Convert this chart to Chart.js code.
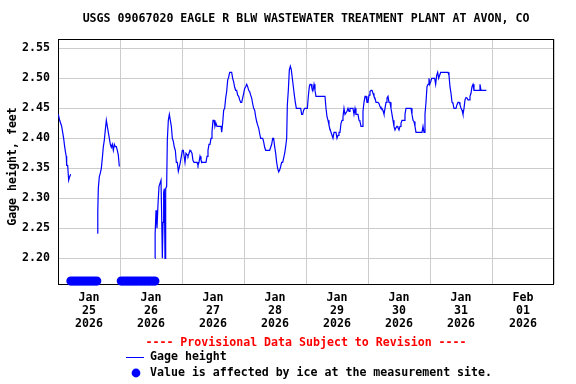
<!DOCTYPE html>
<html>
<head>
<meta charset="utf-8">
<script src="https://cdn.jsdelivr.net/npm/chart.js@4"></script>
<style>
  html, body { margin: 0; padding: 0; background: #fff; }
  #wrap { width: 576px; height: 384px; }
</style>
</head>
<body>
<div id="wrap"><canvas id="gageChart" width="576" height="384"></canvas></div>
<script>
// hours since Jan 25 2026 00:00, gage height in feet (null = gap in record)
const gageHours = [
  0.13, 0.65, 1.03, 1.42, 1.81, 2.19, 2.58, 2.97, 3.2, 3.36, 3.74, 4.13, 4.52, 4.9,
  10,
  15.2, 15.4, 15.61, 16.0, 16.39, 16.77, 17.16, 17.55, 17.93, 18.32, 18.71, 19.1, 19.48, 19.87,
  20.26, 20.64, 21.03, 21.42, 21.81, 22.19, 22.58, 22.97, 23.35, 23.74,
  30,
  37.55, 37.6, 37.94, 38.32, 38.71, 39.1, 39.48, 39.87, 40.13, 40.39, 40.65, 40.9, 41.16, 41.42,
  41.68, 42.06, 42.32, 42.71, 43.1, 43.48, 43.87, 44.26, 44.64, 45.03, 45.42, 45.81, 46.19, 46.58,
  46.97, 47.35, 47.74, 48.13, 48.52, 48.77, 49.16, 49.55, 49.94, 50.32, 50.71, 51.1, 51.48, 51.87,
  52.26, 52.65, 53.81, 54.19, 54.58, 54.97, 55.35, 55.74, 57.29, 57.68, 58.06, 58.45, 58.84, 59.23,
  59.61, 60.0, 60.39, 60.77, 61.16, 61.55, 63.1, 63.36, 63.74, 64.13, 64.52, 64.9, 65.29, 65.68,
  66.06, 66.45, 67.23, 67.61, 68.0, 68.39, 68.77, 69.16, 69.55, 69.94, 70.32, 70.71, 71.1, 71.48,
  71.87, 72.26, 72.65, 73.03, 73.42, 73.81, 74.19, 74.58, 74.97, 75.35, 75.74, 76.13, 76.52, 76.9,
  77.29, 77.68, 78.06, 78.45, 78.84, 79.23, 79.61, 80.0, 80.39, 81.94, 82.32, 82.71, 83.1, 83.48,
  83.87, 84.26, 84.65, 85.03, 85.42, 85.81, 86.19, 86.58, 86.97, 87.35, 87.74, 88.13, 88.52, 88.77,
  89.16, 89.55, 89.94, 90.32, 90.71, 91.1, 91.48, 91.87, 92.26, 93.94, 94.32, 94.71, 95.1, 95.48,
  96.52, 96.9, 97.29, 97.55, 97.94, 98.32, 98.71, 99.1, 99.48, 99.87, 103.35, 103.74, 104.13, 104.52,
  104.9, 105.29, 105.68, 106.06, 106.45, 106.84, 107.61, 108.0, 108.39, 108.77, 109.16, 109.55, 109.94, 110.32,
  110.71, 111.1, 111.48, 111.87, 112.26, 112.65, 113.03, 114.19, 114.58, 114.97, 115.35, 116.13, 116.52, 116.9,
  117.29, 117.68, 118.06, 118.45, 118.84, 119.23, 119.61, 120.0, 120.39, 120.77, 121.16, 121.55, 121.94, 122.32,
  122.71, 123.1, 123.87, 124.26, 124.65, 125.03, 125.42, 125.81, 126.19, 126.58, 126.97, 127.35, 127.74, 128.13,
  128.52, 128.9, 129.29, 129.68, 130.06, 130.45, 130.84, 131.23, 131.61, 132.0, 132.39, 132.77, 133.16, 133.94,
  134.32, 134.71, 136.65, 137.03, 137.42, 137.81, 138.19, 138.58, 140.9, 141.29, 141.68, 142.06, 142.45, 142.84,
  143.23, 143.61, 143.87, 144.26, 144.65, 145.81, 146.19, 146.58, 146.97, 147.35, 147.74, 148.13, 150.97, 151.35,
  151.74, 152.13, 152.52, 152.9, 153.29, 154.06, 154.45, 154.84, 155.23, 155.61, 156.0, 156.39, 156.77, 157.16,
  157.55, 157.94, 158.32, 158.71, 159.1, 159.48, 159.87, 160.26, 160.65, 161.03, 162.97, 163.35, 163.74, 165.81
];
const gageFeet = [
  2.44, 2.43, 2.425, 2.42, 2.41, 2.40, 2.386, 2.375, 2.37, 2.355, 2.355, 2.33, 2.336, 2.34,
  null,
  2.242, 2.278, 2.317, 2.336, 2.342, 2.35, 2.367, 2.386, 2.397, 2.414, 2.43, 2.42, 2.41, 2.40,
  2.39, 2.385, 2.39, 2.38, 2.39, 2.386, 2.386, 2.38, 2.372, 2.353,
  null,
  2.20, 2.24, 2.28, 2.25, 2.29, 2.32, 2.32, 2.33, 2.27, 2.20, 2.26, 2.31, 2.316, 2.20,
  2.316, 2.32, 2.397, 2.43, 2.44, 2.43, 2.42, 2.40, 2.395, 2.385, 2.38, 2.36, 2.36, 2.345,
  2.352, 2.36, 2.37, 2.38, 2.38, 2.38, 2.36, 2.375, 2.373, 2.37, 2.375, 2.38, 2.378, 2.375,
  2.363, 2.36, 2.36, 2.355, 2.36, 2.37, 2.364, 2.36, 2.36, 2.37, 2.38, 2.39, 2.39, 2.40,
  2.41, 2.43, 2.43, 2.42, 2.425, 2.42, 2.42, 2.41, 2.425, 2.447, 2.45, 2.467, 2.478, 2.497,
  2.502, 2.51, 2.51, 2.50, 2.494, 2.485, 2.48, 2.48, 2.472, 2.47, 2.464, 2.46, 2.46, 2.467,
  2.475, 2.483, 2.486, 2.49, 2.486, 2.48, 2.478, 2.472, 2.467, 2.458, 2.45, 2.447, 2.436, 2.428,
  2.422, 2.417, 2.408, 2.40, 2.40, 2.40, 2.394, 2.385, 2.38, 2.38, 2.385, 2.39, 2.40, 2.40,
  2.386, 2.375, 2.36, 2.35, 2.344, 2.347, 2.353, 2.36, 2.36, 2.367, 2.375, 2.386, 2.40, 2.455,
  2.48, 2.514, 2.52, 2.514, 2.50, 2.486, 2.472, 2.46, 2.45, 2.45, 2.44, 2.44, 2.447, 2.45,
  2.45, 2.47, 2.486, 2.49, 2.49, 2.483, 2.48, 2.49, 2.48, 2.47, 2.47, 2.45, 2.436, 2.43,
  2.422, 2.415, 2.41, 2.41, 2.40, 2.41, 2.41, 2.40, 2.405, 2.41, 2.41, 2.425, 2.43, 2.436,
  2.45, 2.44, 2.44, 2.445, 2.45, 2.445, 2.45, 2.45, 2.44, 2.45, 2.44, 2.44, 2.43, 2.428,
  2.42, 2.42, 2.445, 2.46, 2.47, 2.47, 2.46, 2.46, 2.472, 2.478, 2.48, 2.48, 2.475, 2.47,
  2.467, 2.46, 2.46, 2.458, 2.453, 2.45, 2.45, 2.446, 2.44, 2.45, 2.46, 2.467, 2.47, 2.46,
  2.46, 2.45, 2.44, 2.43, 2.42, 2.414, 2.418, 2.42, 2.418, 2.414, 2.42, 2.425, 2.43, 2.43,
  2.44, 2.45, 2.45, 2.44, 2.43, 2.428, 2.42, 2.41, 2.41, 2.42, 2.41, 2.44, 2.46, 2.486,
  2.49, 2.50, 2.49, 2.494, 2.50, 2.50, 2.49, 2.505, 2.51, 2.50, 2.505, 2.51, 2.51, 2.505,
  2.486, 2.475, 2.46, 2.458, 2.45, 2.45, 2.456, 2.46, 2.46, 2.456, 2.45, 2.447, 2.44, 2.45,
  2.464, 2.468, 2.467, 2.464, 2.464, 2.47, 2.475, 2.486, 2.49, 2.48, 2.48, 2.49, 2.48, 2.48
];

// ice-affected markers (hours) sit just above the bottom of the plot
const iceHours = [5, 6, 7, 8, 9, 10, 11, 12, 13, 14, 15,
  24.5, 25.5, 26.5, 27.5, 28.5, 29.5, 30.5, 31.5, 32.5, 33.5, 34.5, 35.5, 36.5, 37.5];
const iceLevel = 2.162;

const dayLabels = [
  ['Jan', '25', '2026'], ['Jan', '26', '2026'], ['Jan', '27', '2026'], ['Jan', '28', '2026'],
  ['Jan', '29', '2026'], ['Jan', '30', '2026'], ['Jan', '31', '2026'], ['Feb', '01', '2026']
];
const yTicks = [2.20, 2.25, 2.30, 2.35, 2.40, 2.45, 2.50, 2.55];

const titleText = 'USGS 09067020 EAGLE R BLW WASTEWATER TREATMENT PLANT AT AVON, CO';
const provisionalText = '---- Provisional Data Subject to Revision ----';
const yTitle = 'Gage height, feet';

const MONO = '"DejaVu Sans Mono", "Liberation Mono", monospace';
const FONT = { family: MONO, size: 11.6, weight: 'bold', lineHeight: 1.15 };

const usgsDecor = {
  id: 'usgsDecor',
  beforeDatasetsDraw(chart) {
    const { ctx, chartArea: a } = chart;
    ctx.save();
    ctx.strokeStyle = '#000';
    ctx.lineWidth = 1;
    ctx.strokeRect(Math.round(a.left) + 0.5, Math.round(a.top) + 0.5,
      Math.round(a.right - a.left) - 1, Math.round(a.bottom - a.top));
    ctx.restore();
  },
  afterDraw(chart) {
    const { ctx, chartArea: a } = chart;
    const cx = (a.left + a.right) / 2;
    ctx.save();
    ctx.font = 'bold 11.6px ' + MONO;
    ctx.textBaseline = 'middle';

    ctx.fillStyle = '#000';
    ctx.textAlign = 'center';
    ctx.fillText(titleText, cx, 19);

    // y axis title, a little below the plot centre as in the USGS plots
    ctx.save();
    ctx.translate(13, (a.top + a.bottom) / 2 + 5);
    ctx.rotate(-Math.PI / 2);
    ctx.fillText(yTitle, 0, 0);
    ctx.restore();

    ctx.fillStyle = '#ff0000';
    ctx.fillText(provisionalText, cx, 343);

    ctx.textAlign = 'left';
    ctx.fillStyle = '#000';
    ctx.fillText(chart.data.datasets[0].label, 150, 357);
    ctx.fillText(chart.data.datasets[1].label, 150, 373);

    ctx.strokeStyle = '#0000ff';
    ctx.lineWidth = 1;
    ctx.beginPath();
    ctx.moveTo(126, 357.5);
    ctx.lineTo(144, 357.5);
    ctx.stroke();

    ctx.fillStyle = '#0000ff';
    ctx.beginPath();
    ctx.arc(136, 373, 4.4, 0, Math.PI * 2);
    ctx.fill();
    ctx.restore();
  }
};

new Chart(document.getElementById('gageChart'), {
  type: 'line',
  data: {
    datasets: [
      {
        label: 'Gage height',
        data: gageHours.map((h, i) => ({ x: h, y: gageFeet[i] })),
        borderColor: '#0000ff',
        borderWidth: 1.2,
        pointRadius: 0,
        tension: 0,
        spanGaps: false,
        fill: false
      },
      {
        label: 'Value is affected by ice at the measurement site.',
        data: iceHours.map(h => ({ x: h, y: iceLevel })),
        showLine: false,
        pointRadius: 4.6,
        pointStyle: 'circle',
        pointBackgroundColor: '#0000ff',
        pointBorderWidth: 0,
        borderColor: '#0000ff',
        clip: false
      }
    ]
  },
  options: {
    responsive: false,
    animation: false,
    events: [],
    layout: { padding: { top: 39, right: 22, bottom: 0, left: 0 } },
    plugins: {
      legend: { display: false },
      tooltip: { enabled: false }
    },
    scales: {
      x: {
        type: 'linear',
        min: 0,
        max: 192,
        afterBuildTicks: (scale) => {
          const t = [];
          for (let v = 0; v <= 192; v += 12) t.push({ value: v });
          scale.ticks = t;
        },
        afterFit: (scale) => { scale.height = 100; },
        border: { display: false },
        grid: {
          drawTicks: false,
          color: (c) => (c.tick && c.tick.value % 24 === 0) ? '#cccccc' : 'rgba(0,0,0,0)',
          lineWidth: 1
        },
        ticks: {
          autoSkip: false,
          maxRotation: 0,
          padding: 7,
          color: '#000',
          font: FONT,
          callback: (v) => (v % 24 === 12) ? dayLabels[(v - 12) / 24] : ''
        }
      },
      y: {
        min: 2.1572,
        max: 2.5655,
        afterBuildTicks: (scale) => { scale.ticks = yTicks.map(v => ({ value: v })); },
        afterFit: (scale) => { scale.width = 58; },
        border: { display: false },
        grid: { drawTicks: false, color: '#cccccc', lineWidth: 1 },
        ticks: {
          padding: 8,
          color: '#000',
          font: FONT,
          callback: (v) => Number(v).toFixed(2)
        }
      }
    }
  },
  plugins: [usgsDecor]
});
</script>
</body>
</html>
